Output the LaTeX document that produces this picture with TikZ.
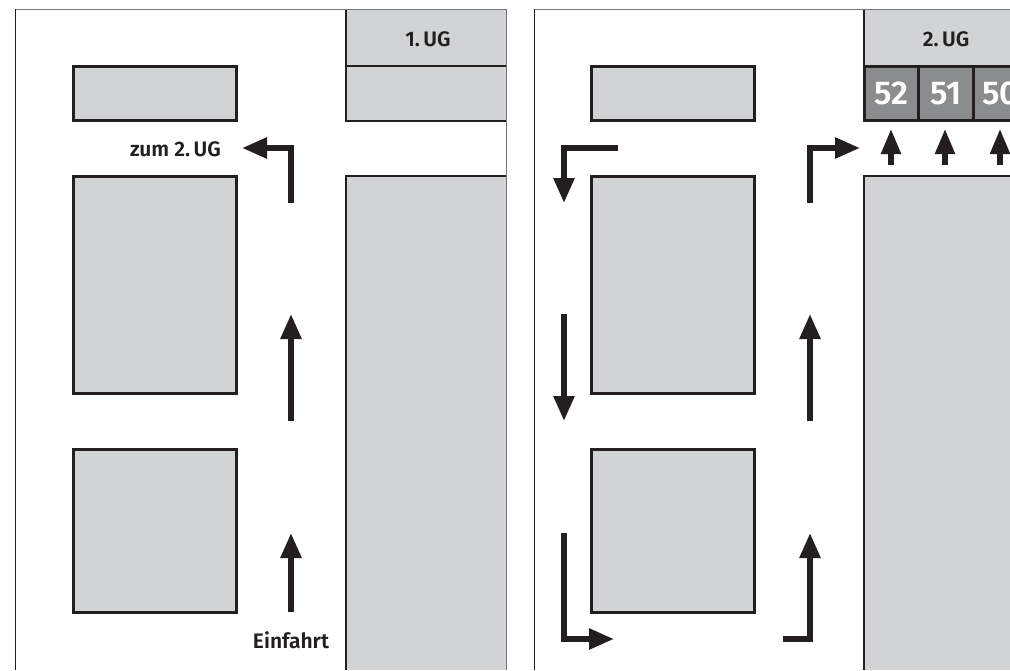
\documentclass[tikz,border=0pt]{standalone}
\usepackage{fontspec}
\setsansfont{Fira Sans}[BoldFont={Fira Sans SemiBold}]
\usetikzlibrary{arrows.meta}
\definecolor{ink}{HTML}{231F20}
\definecolor{floor}{HTML}{D1D3D4}
\definecolor{bay}{HTML}{8A8C8E}
\definecolor{rim}{HTML}{77787B}
\tikzset{
  block/.style={draw=ink, fill=floor, line width=2.6pt, anchor=north west, inner sep=0pt, minimum width=163.4pt},
  baybox/.style={draw=ink, fill=bay, line width=2.6pt, anchor=north west, inner sep=0pt, minimum width=54.4pt, minimum height=54.4pt, text=white, font=\sffamily\bfseries\fontsize{33}{33}\selectfont},
  edgeline/.style={draw=ink, line width=2.6pt},
  route/.style={draw=ink, line width=5.6pt, -{Triangle[length=25pt, width=20pt]}},
  shortroute/.style={draw=ink, line width=5.2pt, -{Triangle[length=25pt, width=19pt]}},
  caption/.style={text=ink, font=\sffamily\bfseries\fontsize{21}{24}\selectfont, inner sep=0pt}
}
\begin{document}
\begin{tikzpicture}[x=1pt, y=-1pt]
  \useasboundingbox (0,0) rectangle (1010,670);
  \clip (0,0) rectangle (1010,670);
  % first level
  \fill[floor] (346,9) rectangle (506,121);
  \fill[floor] (346,176) rectangle (506,670);
  \draw[edgeline] (346,9) -- (346,121) -- (506,121);
  \draw[edgeline] (346,66) -- (506,66);
  \draw[edgeline] (506,176) -- (346,176) -- (346,670);
  \draw[rim, line width=1pt] (15,670) -- (15,9) -- (506,9) -- (506,670);
  \draw[ink, line width=1pt] (15,670) -- (15,9);
  \node[block, minimum height=54.4pt] (upperA) at (72,65) {};
  \node[block, minimum height=217.4pt] (midA) at (72,175) {};
  \node[block, minimum height=163.4pt] (lowerA) at (72,448) {};
  \node[caption] (levelA) at (428,39) {1.\,UG};
  \node[caption, anchor=east] (exitA) at (221,149) {zum 2.\,UG};
  \node[caption] (entry) at (291,640) {Einfahrt};
  \draw[route] (291,203) -- (291,148) -- (242,148);
  \draw[route] (291,421) -- (291,314);
  \draw[route] (291,612) -- (291,533);
  % second level
  \fill[floor] (864,9) rectangle (1010,66);
  \fill[floor] (864,176) rectangle (1010,670);
  \draw[edgeline] (864,121) -- (864,9);
  \draw[edgeline] (864,66) -- (1010,66);
  \draw[edgeline] (1010,176) -- (864,176) -- (864,670);
  \draw[rim, line width=1pt] (534,670) -- (534,9) -- (1010,9);
  \draw[ink, line width=1pt] (534,670) -- (534,9);
  \node[block, minimum height=54.4pt] (upperB) at (590,65) {};
  \node[block, minimum height=217.4pt] (midB) at (590,175) {};
  \node[block, minimum height=163.4pt] (lowerB) at (590,448) {};
  \node[caption] (levelB) at (946,39) {2.\,UG};
  \node[baybox, text depth=-2pt] (bay52) at (863,65) {52};
  \node[baybox, text depth=-2pt] (bay51) at (917.5,65) {51};
  \node[baybox, text depth=-2pt] (bay50) at (972,65) {50};
  \draw[route] (618,148) -- (564,148) -- (564,203);
  \draw[route] (564,314) -- (564,421);
  \draw[route] (564,533) -- (564,639) -- (614,639);
  \draw[route] (783,639) -- (810,639) -- (810,533);
  \draw[route] (810,421) -- (810,314);
  \draw[route] (810,203) -- (810,148) -- (860,148);
  \draw[shortroute] (891,165) -- (891,129);
  \draw[shortroute] (945,165) -- (945,129);
  \draw[shortroute] (1000,165) -- (1000,129);
\end{tikzpicture}
\end{document}
